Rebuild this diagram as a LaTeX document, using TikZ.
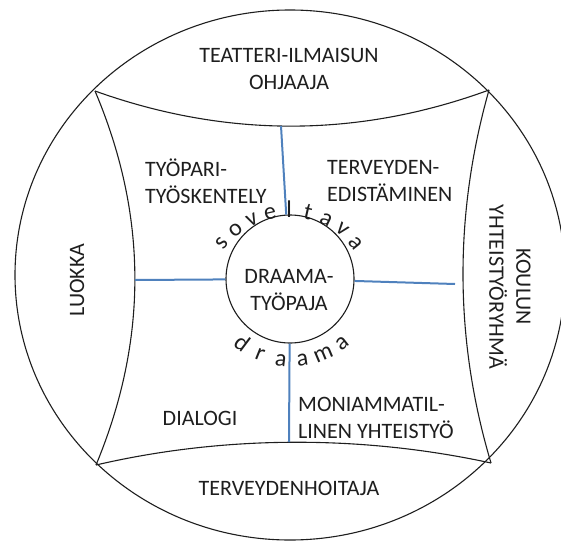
\documentclass[tikz,border=0pt]{standalone}
\usepackage{fontspec}
\setmainfont{Carlito}
\usetikzlibrary{calc}
\definecolor{spoke}{RGB}{79,129,189}
\definecolor{ink}{RGB}{30,30,30}
\begin{document}
\begin{tikzpicture}[x=1pt,y=1pt,
  frame/.style={draw=ink, line width=1.1pt},
  spokeline/.style={draw=spoke, line width=2pt},
  lbl/.style={font=\fontsize{22}{27}\selectfont, text=ink, inner sep=0pt, align=center},
  lbll/.style={lbl, align=left, anchor=west},
  arcletter/.style={font=\fontsize{24}{28}\selectfont, text=ink, inner sep=0pt, anchor=base}]
\useasboundingbox (0,0) rectangle (561,542);
\begin{scope}
  \clip (0,0) rectangle (561,542);
  \draw[frame] (290,267) ellipse [x radius=275, y radius=265];
\end{scope}
% corners of the inner frame
\coordinate (TL) at (95,451);
\coordinate (TR) at (489,452);
\coordinate (BL) at (96,77);
\coordinate (BR) at (491,79);
\draw[frame] (TL) .. controls (226,404) and (358,404) .. (TR);
\draw[frame] (BL) .. controls (225,107) and (362,107) .. (BR);
\draw[frame] (TL) .. controls (148,326) and (148,202) .. (BL);
\draw[frame] (TR) .. controls (454,328) and (454,203) .. (BR);
% hub
\node[circle, frame, fill=white, minimum size=128pt, inner sep=0pt] (hub) at (290,263) {};
\node[lbl] (hubtxt) at (289,252) {DRAAMA-\\TYÖPAJA};
% spokes
\coordinate (sT) at (281,416);
\coordinate (sB) at (289,100);
\coordinate (sL) at (135,262);
\coordinate (sR) at (455,258);
\draw[spokeline] (sT) -- (hub);
\draw[spokeline] (hub) -- (sB);
\draw[spokeline] (sL) -- (hub);
\draw[spokeline] (hub) -- (sR);
% labels
\node[lbl] (ohjaaja) at (289,473.5) {TEATTERI-ILMAISUN\\OHJAAJA};
\node[lbll] (tyopari) at (145,361) {TYÖPARI-\\TYÖSKENTELY};
\node[lbll] (terveyden) at (327,361) {TERVEYDEN-\\EDISTÄMINEN};
\node[lbl, rotate=90] (luokka) at (77,262) {LUOKKA};
\node[lbl, rotate=-90] (koulun) at (510,255) {KOULUN\\YHTEISTYÖRYHMÄ};
\node[lbl] (dialogi) at (200,124) {DIALOGI};
\node[lbll] (moni) at (298,124.5) {MONIAMMATIL-\\LINEN YHTEISTYÖ};
\node[lbl] (hoitaja) at (289,54) {TERVEYDENHOITAJA};
% arched words
\foreach \ch [count=\i from 0] in {s,o,v,e,l,t,a,v,a}{
  \pgfmathsetmacro{\ang}{141-12.75*\i}
  \node[arcletter, rotate=\ang-90] (sv\i) at ($(289,245)+(\ang:80)$) {\ch};
}
\foreach \ch [count=\i from 0] in {d,r,a,a,m,a}{
  \pgfmathsetmacro{\ang}{-127+15*\i}
  \node[arcletter, rotate=\ang+90] (dr\i) at ($(291,264)+(\ang:89)$) {\ch};
}
\end{tikzpicture}
\end{document}
